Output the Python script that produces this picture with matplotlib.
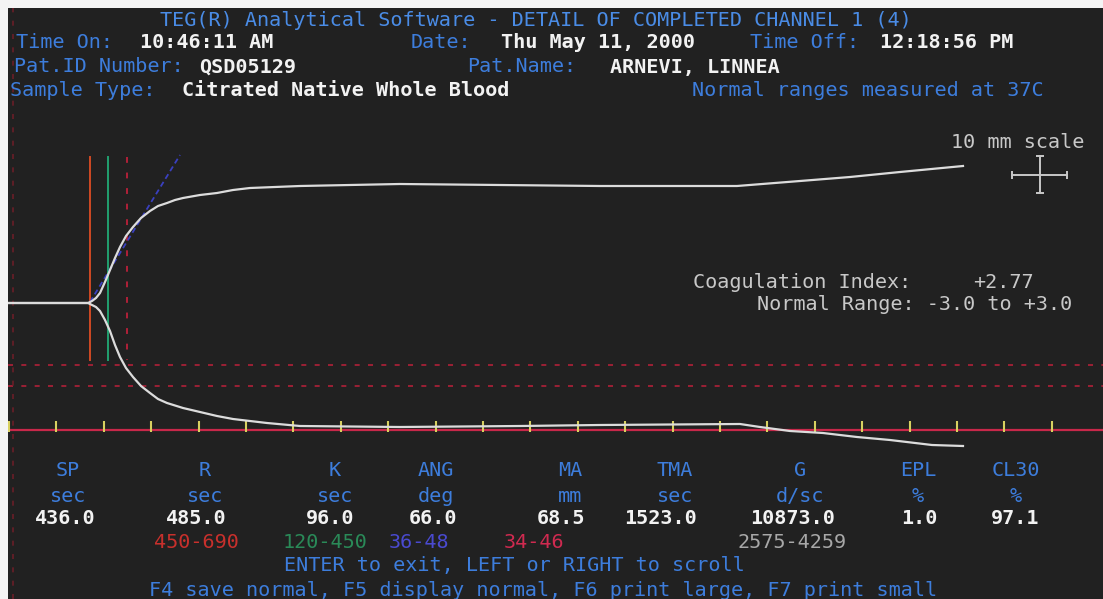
"""TEG detail screen of completed channel 1, redrawn with matplotlib."""

import matplotlib
matplotlib.use("Agg")
import matplotlib.pyplot as plt

W, H = 1103, 599

# trace, in screen coordinates (x, y of the upper and lower branch)
trace_x_upper = [8, 88, 92, 96, 100, 105, 110, 115, 120, 126, 133, 141, 150, 158,
                 167, 175, 183, 200, 217, 233, 250, 275, 300, 400, 500, 600, 737,
                 800, 850, 900, 963]
trace_y_upper = [303, 303, 301, 298, 293, 282, 270, 258, 247, 236, 227, 218, 211, 206,
                 203, 200, 198, 195, 193, 190, 188, 187, 186, 184, 185, 186, 186,
                 181, 177, 172, 166]
trace_x_lower = [8, 88, 92, 96, 100, 105, 110, 115, 120, 126, 133, 141, 150, 158,
                 167, 183, 200, 217, 233, 250, 267, 300, 400, 520, 600, 740, 760,
                 790, 823, 857, 890, 932, 963]
trace_y_lower = [303, 303, 305, 307, 311, 320, 331, 345, 357, 368, 377, 386, 393, 399,
                 403, 408, 412, 416, 419, 421, 423, 426, 427, 426, 425, 424, 427,
                 431, 433, 437, 440, 445, 446]

# time ticks along the baseline
tick_x = [9 + 47.4 * k for k in range(23)]
baseline_y = 430

# markers: R, K, dotted guides, angle line
r_x, k_x, dot_x, left_dot_x = 90, 108, 127, 13
marker_top, marker_bottom = 157, 360
angle_x = [90, 180]
angle_y = [302, 155]
range_lines_y = [365, 386]

# header text
header_labels = [
    ("Time On:", 64, 43), ("Date:", 441, 43), ("Time Off:", 805, 43),
    ("Pat.ID Number:", 99, 67), ("Pat.Name:", 522, 67),
    ("Sample Type:", 83, 91), ("Normal ranges measured at 37C", 868, 91),
]
header_values = [
    ("10:46:11 AM", 207, 43), ("Thu May 11, 2000", 598, 43), ("12:18:56 PM", 947, 43),
    ("QSD05129", 248, 67), ("ARNEVI, LINNEA", 695, 67),
    ("Citrated Native Whole Blood", 346, 91),
]
title = "TEG(R) Analytical Software - DETAIL OF COMPLETED CHANNEL 1 (4)"

# result table
param_names = ["SP", "R", "K", "ANG", "MA", "TMA", "G", "EPL", "CL30"]
param_units = ["sec", "sec", "sec", "deg", "mm", "sec", "d/sc", "%", "%"]
param_values = ["436.0", "485.0", "96.0", "66.0", "68.5", "1523.0", "10873.0", "1.0", "97.1"]
param_x = [68, 205, 335, 436, 570, 675, 800, 918, 1016]
value_x = [65, 196, 330, 433, 561, 661, 793, 919, 1015]
normal_ranges = ["450-690", "120-450", "36-48", "34-46", "2575-4259"]
normal_range_x = [196, 325, 419, 534, 792]
normal_range_colors = ["#c8302c", "#2a8a58", "#4a4ad0", "#d02a50", "#a8a8a8"]

BG = "#212121"
BLUE = "#3d7ddc"
WHITE = "#f2f2f2"
GRAY = "#c8c8c8"
FONT = "DejaVu Sans Mono"
FS = 14.5

fig = plt.figure(figsize=(W / 100, H / 100), dpi=100, facecolor="#f4f4f4")
ax = fig.add_axes([8 / W, 0, (W - 8) / W, (H - 8) / H])
ax.set_facecolor(BG)
ax.set_xlim(8, W)
ax.set_ylim(H, 8)
ax.axis("off")
ax.add_patch(plt.Rectangle((0, 0), 1, 1, transform=ax.transAxes, color=BG, zorder=0))


def put(s, x, y, color, weight="bold", size=FS, ha="center"):
    ax.text(x, y, s, color=color, fontsize=size, family=FONT, weight=weight,
            ha=ha, va="center")


put(title, 536, 20, "#4a8ce6", weight="normal")
for s, x, y in header_labels:
    put(s, x, y, BLUE, weight="normal")
for s, x, y in header_values:
    put(s, x, y, WHITE)

# dotted range guides
for y in range_lines_y:
    ax.axhline(y, color="#b02038", lw=1.2, ls=(0, (3, 5)), zorder=1)
ax.axvline(left_dot_x, color="#6a1e28", lw=1.2, ls=(0, (3, 5)), zorder=1)
ax.plot([dot_x, dot_x], [marker_top, marker_bottom], color="#b02038", lw=1.4,
        ls=(0, (3, 5)), zorder=1)
ax.plot([r_x, r_x], [marker_top, marker_bottom], color="#d04a24", lw=1.4, zorder=2)
ax.plot([k_x, k_x], [marker_top, marker_bottom], color="#22a070", lw=1.4, zorder=2)
ax.plot(angle_x, angle_y, color="#3a40c0", lw=1.3, ls=(0, (3, 2)), zorder=2)

# baseline and time ticks
ax.axhline(baseline_y, color="#c8284a", lw=1.6, zorder=2)
ax.vlines(tick_x, baseline_y - 9, baseline_y + 2, color="#d8d060", lw=1.5, zorder=3)

# trace
ax.plot(trace_x_upper, trace_y_upper, color="#dcdcdc", lw=1.6, zorder=4)
ax.plot(trace_x_lower, trace_y_lower, color="#dcdcdc", lw=1.6, zorder=4)

# scale marker
put("10 mm scale", 1018, 142, GRAY, weight="normal")
ax.plot([1012, 1067], [175, 175], color=GRAY, lw=1.4)
ax.plot([1040, 1040], [156, 193], color=GRAY, lw=1.4)
ax.vlines([1012, 1067], 171, 179, color=GRAY, lw=1.4)
ax.hlines([156, 193], 1036, 1044, color=GRAY, lw=1.4)

# coagulation index
put("Coagulation Index:", 802, 283, GRAY, weight="normal")
put("+2.77", 1003, 283, GRAY, weight="normal")
put("Normal Range: -3.0 to +3.0", 915, 305, GRAY, weight="normal")

# results table
for name, unit, val, px, vx in zip(param_names, param_units, param_values, param_x, value_x):
    put(name, px, 471, BLUE, weight="normal")
    put(unit, px, 496, BLUE, weight="normal")
    put(val, vx, 518, WHITE)
for s, x, c in zip(normal_ranges, normal_range_x, normal_range_colors):
    put(s, x, 542, c, weight="normal")

put("ENTER to exit, LEFT or RIGHT to scroll", 514, 566, BLUE, weight="normal")
put("F4 save normal, F5 display normal, F6 print large, F7 print small", 543, 590,
    BLUE, weight="normal")

fig.savefig("out.png", dpi=100, facecolor=fig.get_facecolor())
